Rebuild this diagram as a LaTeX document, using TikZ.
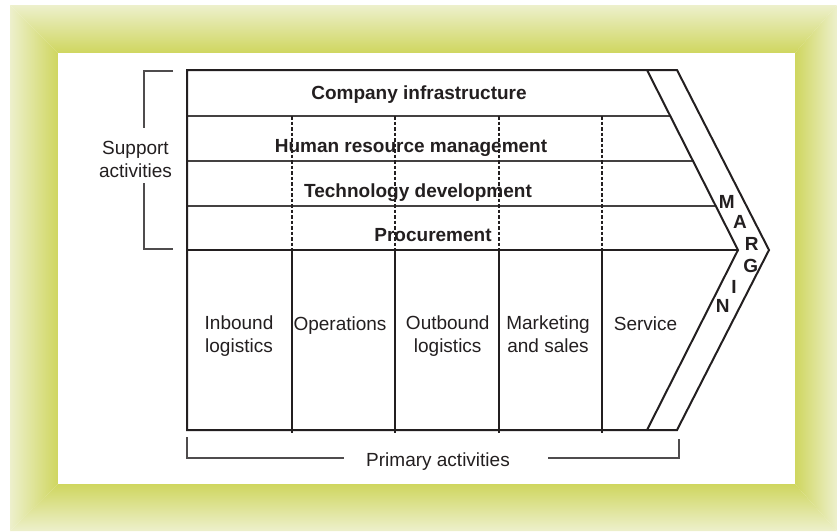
\documentclass[tikz,border=0pt]{standalone}
\usepackage{fontspec}
\setmainfont{Liberation Sans}
\definecolor{framedark}{RGB}{207,214,95}
\definecolor{framepale}{RGB}{237,240,204}
\definecolor{ink}{RGB}{35,31,32}

\begin{document}
\begin{tikzpicture}[x=1pt, y=-1pt,
  boxline/.style={draw=ink, line width=2pt, line join=miter},
  rowline/.style={draw=ink!85, line width=1.3pt},
  colline/.style={draw=ink, line width=1.2pt},
  dashline/.style={colline, dash pattern=on 3.5pt off 2pt},
  bracket/.style={draw=ink!80, line width=1.6pt},
  txt/.style={text=ink, inner sep=0pt, font=\fontsize{19}{22.5}\selectfont},
  boldtxt/.style={txt, font=\fontsize{19}{22.5}\selectfont\bfseries}]
\useasboundingbox (0,0) rectangle (837,531);
\fill[white] (0,0) rectangle (837,531);
\shade[top color=framepale, bottom color=framedark] (10,5) -- (837,5) -- (795,53) -- (58,53) -- cycle;
\shade[top color=framedark, bottom color=framepale] (58,484) -- (795,484) -- (837,531) -- (10,531) -- cycle;
\shade[left color=framepale, right color=framedark] (10,5) -- (58,53) -- (58,484) -- (10,531) -- cycle;
\shade[left color=framedark, right color=framepale] (795,53) -- (837,5) -- (837,531) -- (795,484) -- cycle;
\fill[white] (58,53) rectangle (795,484);
\coordinate (tl) at (187,70);
\coordinate (tr) at (677,70);
\coordinate (tip) at (769,250);
\coordinate (br) at (677,430);
\coordinate (bl) at (187,430);
\coordinate (itop) at (647,70);
\coordinate (ipt) at (738,250);
\coordinate (ibot) at (647,430);
\foreach \y in {116,161,206}
  \draw[rowline] (187,\y) -- ({647+(\y-70)*91/180},\y);
\draw[boxline] (187,250) -- (ipt);
\foreach \x in {292,395,499,602} {
  \draw[dashline] (\x,116) -- (\x,250);
  \draw[colline] (\x,250) -- (\x,433);
}
\draw[boxline] (itop) -- (ipt) -- (ibot);
\draw[boxline] (tl) -- (tr) -- (tip) -- (br) -- (bl) -- cycle;
\node[boldtxt, anchor=base] (infra) at (419,99.5) {Company infrastructure};
\node[boldtxt, anchor=base] (hrm) at (411,152) {Human resource management};
\node[boldtxt, anchor=base] (techdev) at (418,197) {Technology development};
\node[boldtxt, anchor=base] (procure) at (433,241) {Procurement};
\node[txt, anchor=base, align=center] (inbound) at (239,352) {Inbound\\logistics};
\node[txt, anchor=base] (ops) at (340,330) {Operations};
\node[txt, anchor=base, align=center] (outbound) at (447.7,352) {Outbound\\logistics};
\node[txt, anchor=base, align=center] (marketing) at (548,352) {Marketing\\and sales};
\node[txt, anchor=base] (service) at (645.5,330) {Service};
\node[txt, anchor=base, align=center] (support) at (135.5,177) {Support\\activities};
\node[txt, anchor=base] (primary) at (438,466) {Primary activities};
\foreach \l/\x/\y [count=\i] in {M/726.7/201.7, A/740/221.7, R/751.7/244, G/750.7/266, I/734/286.7, N/722.7/306}
  \node[boldtxt] (margin\i) at (\x,\y) {\l};
\draw[bracket] (173,71) -- (144,71) -- (144,128);
\draw[bracket] (144,183) -- (144,249) -- (173,249);
\draw[bracket] (187,437) -- (187,458) -- (344,458);
\draw[bracket] (548,458) -- (679,458) -- (679,439);
\end{tikzpicture}
\end{document}
